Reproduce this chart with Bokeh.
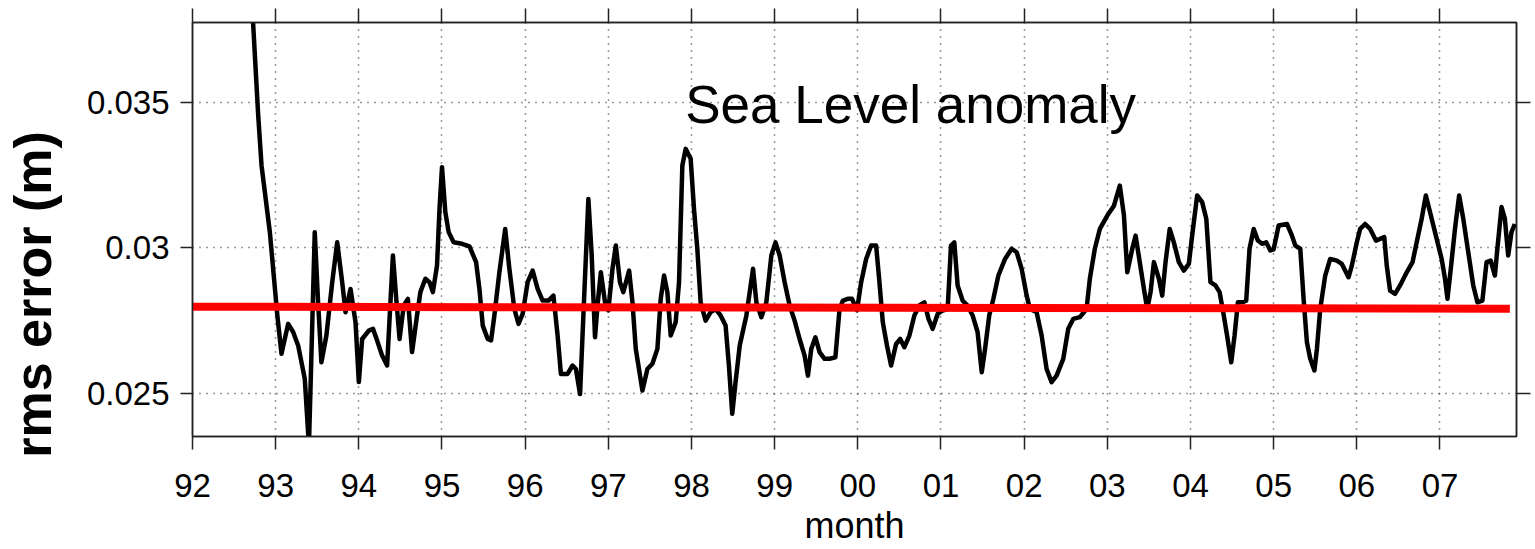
from bokeh.plotting import figure
from bokeh.models import FixedTicker, LinearAxis, Label
from bokeh.embed import file_html
from bokeh.resources import INLINE

# ---------------- data ----------------
month = [
    1992.70, 1992.79, 1992.83, 1992.93, 1993.02, 1993.07, 1993.15, 1993.21, 1993.27, 1993.35,
    1993.40, 1993.47, 1993.51, 1993.55, 1993.61, 1993.68, 1993.74, 1993.80, 1993.84, 1993.90,
    1993.96, 1994.00, 1994.04, 1994.12, 1994.17, 1994.22, 1994.28, 1994.34, 1994.38, 1994.41,
    1994.45, 1994.49, 1994.54, 1994.59, 1994.64, 1994.70, 1994.74, 1994.80, 1994.85, 1994.89,
    1994.94, 1994.97, 1995.00, 1995.04, 1995.08, 1995.14, 1995.24, 1995.33, 1995.41, 1995.45,
    1995.49, 1995.55, 1995.59, 1995.63, 1995.69, 1995.76, 1995.81, 1995.87, 1995.92, 1995.97,
    1996.03, 1996.09, 1996.15, 1996.21, 1996.28, 1996.34, 1996.39, 1996.43, 1996.51, 1996.57,
    1996.61, 1996.66, 1996.70, 1996.76, 1996.80, 1996.84, 1996.87, 1996.91, 1996.96, 1997.00,
    1997.05, 1997.09, 1997.14, 1997.18, 1997.25, 1997.29, 1997.33, 1997.41, 1997.47, 1997.53,
    1997.59, 1997.63, 1997.67, 1997.71, 1997.75, 1997.81, 1997.85, 1997.89, 1997.93, 1997.99,
    1998.03, 1998.07, 1998.11, 1998.17, 1998.23, 1998.29, 1998.35, 1998.41, 1998.45, 1998.49,
    1998.53, 1998.58, 1998.66, 1998.70, 1998.74, 1998.78, 1998.84, 1998.90, 1998.96, 1999.01,
    1999.06, 1999.12, 1999.18, 1999.24, 1999.30, 1999.36, 1999.40, 1999.44, 1999.49, 1999.54,
    1999.60, 1999.66, 1999.73, 1999.78, 1999.82, 1999.88, 1999.93, 1999.99, 2000.04, 2000.10,
    2000.16, 2000.22, 2000.26, 2000.30, 2000.35, 2000.40, 2000.46, 2000.51, 2000.56, 2000.62,
    2000.68, 2000.74, 2000.80, 2000.85, 2000.90, 2000.96, 2001.02, 2001.08, 2001.12, 2001.16,
    2001.20, 2001.26, 2001.32, 2001.38, 2001.44, 2001.49, 2001.53, 2001.58, 2001.63, 2001.69,
    2001.77, 2001.85, 2001.91, 2001.97, 2002.03, 2002.07, 2002.15, 2002.21, 2002.27, 2002.33,
    2002.39, 2002.47, 2002.53, 2002.59, 2002.67, 2002.75, 2002.79, 2002.85, 2002.91, 2003.00,
    2003.08, 2003.15, 2003.20, 2003.24, 2003.30, 2003.34, 2003.39, 2003.44, 2003.48, 2003.52,
    2003.56, 2003.62, 2003.66, 2003.70, 2003.75, 2003.80, 2003.86, 2003.92, 2003.98, 2004.02,
    2004.08, 2004.14, 2004.19, 2004.24, 2004.30, 2004.35, 2004.40, 2004.44, 2004.49, 2004.53,
    2004.57, 2004.62, 2004.67, 2004.71, 2004.76, 2004.81, 2004.86, 2004.91, 2004.96, 2005.00,
    2005.06, 2005.16, 2005.22, 2005.26, 2005.32, 2005.36, 2005.40, 2005.44, 2005.49, 2005.52,
    2005.56, 2005.62, 2005.68, 2005.76, 2005.82, 2005.90, 2005.94, 2006.00, 2006.04, 2006.10,
    2006.16, 2006.23, 2006.28, 2006.33, 2006.36, 2006.40, 2006.46, 2006.52, 2006.60, 2006.67,
    2006.72, 2006.78, 2006.83, 2006.88, 2006.94, 2007.02, 2007.06, 2007.09, 2007.13, 2007.18,
    2007.23, 2007.28, 2007.34, 2007.40, 2007.45, 2007.51, 2007.56, 2007.61, 2007.66, 2007.69,
    2007.74, 2007.78, 2007.82, 2007.86, 2007.90,
]

rms_error = [
    0.03920, 0.03455, 0.03283, 0.03054, 0.02768, 0.02636, 0.02739, 0.02711, 0.02665, 0.02550,
    0.02320, 0.03054, 0.02813, 0.02607, 0.02699, 0.02882, 0.03019, 0.02882, 0.02779, 0.02859,
    0.02745, 0.02539, 0.02687, 0.02716, 0.02722, 0.02682, 0.02630, 0.02596, 0.02813, 0.02974,
    0.02825, 0.02687, 0.02802, 0.02825, 0.02642, 0.02768, 0.02848, 0.02894, 0.02882, 0.02848,
    0.02939, 0.03134, 0.03277, 0.03123, 0.03054, 0.03019, 0.03014, 0.03005, 0.02951, 0.02859,
    0.02733, 0.02687, 0.02682, 0.02768, 0.02916, 0.03065, 0.02928, 0.02790, 0.02739, 0.02773,
    0.02882, 0.02922, 0.02859, 0.02819, 0.02819, 0.02836, 0.02699, 0.02567, 0.02567, 0.02596,
    0.02584, 0.02498, 0.02768, 0.03168, 0.02974, 0.02693, 0.02802, 0.02916, 0.02813, 0.02785,
    0.02928, 0.03008, 0.02882, 0.02848, 0.02922, 0.02813, 0.02653, 0.02510, 0.02584, 0.02602,
    0.02653, 0.02825, 0.02905, 0.02848, 0.02699, 0.02745, 0.02882, 0.03283, 0.03340, 0.03306,
    0.03134, 0.02997, 0.02813, 0.02750, 0.02779, 0.02790, 0.02768, 0.02733, 0.02596, 0.02430,
    0.02539, 0.02665, 0.02768, 0.02848, 0.02928, 0.02813, 0.02762, 0.02813, 0.02974, 0.03019,
    0.02974, 0.02882, 0.02802, 0.02750, 0.02687, 0.02630, 0.02561, 0.02653, 0.02693, 0.02642,
    0.02619, 0.02619, 0.02624, 0.02790, 0.02819, 0.02825, 0.02825, 0.02785, 0.02882, 0.02962,
    0.03008, 0.03008, 0.02882, 0.02745, 0.02665, 0.02596, 0.02670, 0.02687, 0.02659, 0.02699,
    0.02768, 0.02802, 0.02813, 0.02756, 0.02722, 0.02773, 0.02785, 0.02790, 0.03008, 0.03019,
    0.02871, 0.02819, 0.02802, 0.02768, 0.02711, 0.02573, 0.02653, 0.02768, 0.02825, 0.02905,
    0.02962, 0.02997, 0.02985, 0.02928, 0.02836, 0.02790, 0.02779, 0.02699, 0.02584, 0.02539,
    0.02561, 0.02619, 0.02722, 0.02756, 0.02762, 0.02790, 0.02894, 0.02997, 0.03065, 0.03111,
    0.03145, 0.03214, 0.03111, 0.02916, 0.02997, 0.03042, 0.02951, 0.02859, 0.02790, 0.02848,
    0.02951, 0.02894, 0.02836, 0.02951, 0.03065, 0.03019, 0.02951, 0.02922, 0.02945, 0.03042,
    0.03180, 0.03157, 0.03100, 0.02882, 0.02871, 0.02848, 0.02768, 0.02699, 0.02607, 0.02699,
    0.02813, 0.02813, 0.02819, 0.02997, 0.03065, 0.03025, 0.03014, 0.03019, 0.02991, 0.02995,
    0.03077, 0.03082, 0.03042, 0.03008, 0.02997, 0.02825, 0.02676, 0.02619, 0.02579, 0.02653,
    0.02790, 0.02905, 0.02962, 0.02956, 0.02945, 0.02899, 0.02939, 0.03019, 0.03065, 0.03082,
    0.03065, 0.03025, 0.03031, 0.03037, 0.02939, 0.02853, 0.02842, 0.02871, 0.02916, 0.02951,
    0.03019, 0.03100, 0.03180, 0.03123, 0.03054, 0.02962, 0.02894, 0.02825, 0.02928, 0.03065,
    0.03180, 0.03100, 0.02985, 0.02871, 0.02813, 0.02819, 0.02951, 0.02956, 0.02905, 0.02997,
    0.03140, 0.03100, 0.02974, 0.03054, 0.03082,
]

# mean / trend level (red line)
trend_x = [1991.90, 2007.84]
trend_y = [0.02798, 0.02791]

year_ticks = list(range(1992, 2008))
year_labels = ["92", "93", "94", "95", "96", "97", "98", "99",
               "00", "01", "02", "03", "04", "05", "06", "07"]
y_ticks = [0.025, 0.03, 0.035]
y_labels = ["0.025", "0.03", "0.035"]

title_text = "Sea Level anomaly"
x_title = "month"
y_title = "rms error (m)"

# ---------------- figure ----------------
FONT = "Liberation Sans"
AX = "#222222"

p = figure(width=1535, height=549, output_backend="svg", toolbar_location=None,
           x_range=(1992, 2007.92), y_range=(0.023522, 0.037739),
           min_border_left=192, min_border_right=19, min_border_top=22,
           min_border_bottom=113)
p.background_fill_color = "white"
p.border_fill_color = "white"
p.outline_line_color = AX
p.outline_line_width = 1.5

xt = FixedTicker(ticks=year_ticks)
yt = FixedTicker(ticks=y_ticks)
x_over = {t: l for t, l in zip(year_ticks, year_labels)}
y_over = {t: l for t, l in zip(y_ticks, y_labels)}


def style_axis(ax, tick_out):
    ax.axis_line_color = AX
    ax.axis_line_width = 1.5
    ax.major_tick_line_color = AX
    ax.major_tick_line_width = 1.5
    ax.major_tick_in = 0
    ax.major_tick_out = tick_out
    ax.minor_tick_line_color = None
    ax.major_label_text_font = FONT
    ax.major_label_text_color = "black"


xa = p.xaxis[0]
xa.ticker = xt
xa.major_label_overrides = x_over
style_axis(xa, 13)
xa.major_label_text_font_size = "33px"
xa.major_label_standoff = 24
xa.axis_label = x_title
xa.axis_label_text_font = FONT
xa.axis_label_text_font_size = "36px"
xa.axis_label_text_font_style = "normal"
xa.axis_label_text_color = "black"
xa.axis_label_standoff = 5

ya = p.yaxis[0]
ya.ticker = yt
ya.major_label_overrides = y_over
style_axis(ya, 12)
ya.major_label_text_font_size = "33px"
ya.major_label_standoff = 11
# the reference title sits below the frame centre: pad its upper end
ya.axis_label = y_title + "\u00a0" * 9
ya.axis_label_text_font = FONT
ya.axis_label_text_font_size = "52px"
ya.axis_label_text_font_style = "bold"
ya.axis_label_text_color = "black"
ya.axis_label_standoff = 22

# frame ticks on the top and right sides (no labels)
top = LinearAxis(ticker=xt)
style_axis(top, 14)
top.major_label_text_color = None
top.major_label_text_font_size = "1px"
top.major_label_standoff = 0
p.add_layout(top, "above")

right = LinearAxis(ticker=yt)
style_axis(right, 14)
right.major_label_text_color = None
right.major_label_text_font_size = "1px"
right.major_label_standoff = 0
p.add_layout(right, "right")

for g in (p.xgrid[0], p.ygrid[0]):
    g.grid_line_color = "#333333"
    g.grid_line_width = 1.5
    g.grid_line_dash = "1 6"
p.xgrid[0].ticker = xt
p.ygrid[0].ticker = yt

p.line(month, rms_error, line_color="black", line_width=4.5, line_join="round")
p.line(trend_x, trend_y, line_color="#ff0000", line_width=8)

# in-plot title
p.add_layout(Label(x=1997.925, y=0.03494, text=title_text, text_font=FONT,
                   text_font_size="53px", text_color="black",
                   text_baseline="alphabetic", text_align="left"))

open("out.html", "w").write(file_html(p, INLINE))
